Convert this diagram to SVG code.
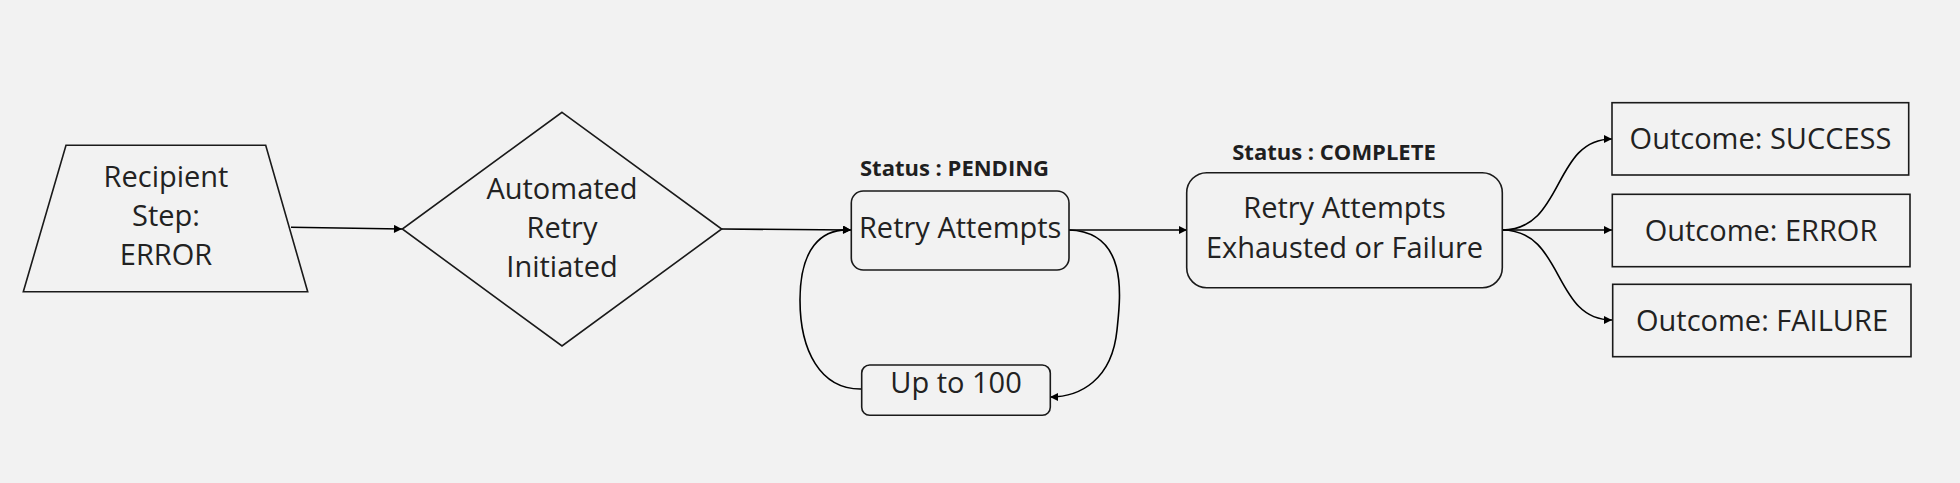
<svg xmlns="http://www.w3.org/2000/svg" width="1960" height="483" viewBox="0 0 1960 483">
<style>
.shape{fill:#f2f2f2;stroke:#1a1a1a;stroke-width:1.6}
.t{font-family:"Open Sans","Noto Sans","Liberation Sans",sans-serif;font-size:29px;fill:#222;text-anchor:middle}
.s{font-family:"Open Sans","Noto Sans","Liberation Sans",sans-serif;font-size:22px;font-weight:bold;fill:#1f1f1f;text-anchor:middle}
.c{fill:none;stroke:#000;stroke-width:1.6;marker-end:url(#ah)}
</style>
<defs>
<marker id="ah" viewBox="0 0 10 10" refX="10" refY="5" markerWidth="10" markerHeight="8" markerUnits="userSpaceOnUse" orient="auto">
<path d="M0,0 L10,5 L0,10 z" fill="#000"/>
</marker>
</defs>
<rect width="1960" height="483" fill="#f2f2f2"/>
<g id="connectors">
<path class="c" d="M291,227.3 L402,229"/>
<path class="c" d="M722,229 L851,230"/>
<path class="c" d="M1069,230 C1130,232 1120,300 1117,330 C1112,380 1080,397 1050,397"/>
<path class="c" d="M862,389 C820,390 800,350 800,300 C800,250 820,228 851,230"/>
<path class="c" d="M1069,230 L1187,230"/>
<path class="c" d="M1502,230 C1565,230 1552,139 1612,139"/>
<path class="c" d="M1502,230 L1612,230"/>
<path class="c" d="M1502,230 C1565,230 1552,320 1612,320"/>
</g>
<g id="recipient">
<polygon class="shape" points="66,145.3 265.7,145.3 307.7,291.7 23.3,291.7"/>
<text class="t" x="166" y="187.3">Recipient</text>
<text class="t" x="166" y="226">Step:</text>
<text class="t" x="166" y="265">ERROR</text>
</g>
<g id="automated">
<polygon class="shape" points="562,112.3 721.7,229 562,346 402.3,229"/>
<text class="t" x="562" y="199.3">Automated</text>
<text class="t" x="562" y="238.3">Retry</text>
<text class="t" x="562" y="276.7">Initiated</text>
</g>
<g id="retry">
<text class="s" x="954.5" y="176">Status : PENDING</text>
<rect class="shape" x="851.3" y="191" width="217.7" height="79" rx="12"/>
<text class="t" x="960.2" y="237.7">Retry Attempts</text>
</g>
<g id="upto">
<rect class="shape" x="861.7" y="365" width="188.6" height="50.3" rx="8"/>
<text class="t" x="956" y="393.3">Up to 100</text>
</g>
<g id="exhausted">
<text class="s" x="1334" y="160">Status : COMPLETE</text>
<rect class="shape" x="1186.7" y="172.7" width="315.6" height="115" rx="20"/>
<text class="t" x="1344.5" y="218.3">Retry Attempts</text>
<text class="t" x="1344.5" y="257.7">Exhausted or Failure</text>
</g>
<g id="success">
<rect class="shape" x="1612" y="102.7" width="296.7" height="72.3"/>
<text class="t" x="1760.5" y="149.3">Outcome: SUCCESS</text>
</g>
<g id="error">
<rect class="shape" x="1612.3" y="194.3" width="297.7" height="72.4"/>
<text class="t" x="1761" y="241">Outcome: ERROR</text>
</g>
<g id="failure">
<rect class="shape" x="1612.7" y="284.3" width="298.3" height="72.4"/>
<text class="t" x="1762" y="331">Outcome: FAILURE</text>
</g>
</svg>
